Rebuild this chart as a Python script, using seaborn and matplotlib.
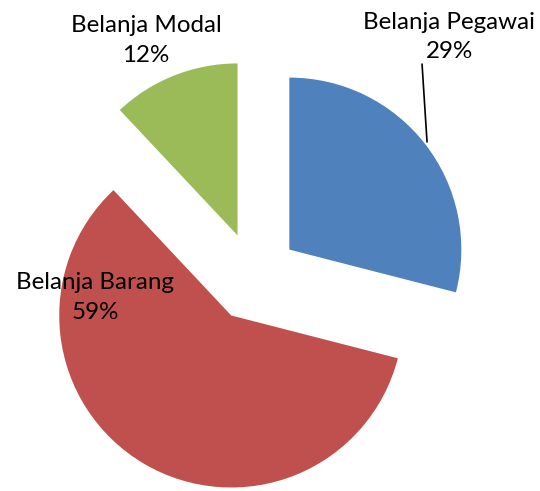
import matplotlib
matplotlib.use("Agg")
import matplotlib.pyplot as plt
import seaborn as sns
import numpy as np

sns.set_theme(style="white")
plt.rcParams['font.family'] = ['Lato', 'DejaVu Sans']

# Data
categories = ['Belanja Pegawai', 'Belanja Barang', 'Belanja Modal']
shares = [29, 59, 12]
colors = ['#4F81BD', '#C0504D', '#9BBB59']

# label block centres (data units, pie radius = 1)
label_pos = [(1.134, 1.395), (-0.924, -0.12), (-0.628, 1.375)]

PX = 172.0  # pixels per pie radius
fig = plt.figure(figsize=(5.40, 4.91), dpi=100)
ax = fig.add_axes([0, 0, 1, 1])

wedges, _ = ax.pie(shares, colors=colors, startangle=90, counterclock=False,
                   explode=[0.26] * len(shares), radius=1.0,
                   wedgeprops=dict(linewidth=0))

for w, cat, val, (lx, ly) in zip(wedges, categories, shares, label_pos):
    ax.text(lx, ly, f"{cat}\n{val}%", ha='center', va='center',
            fontsize=17.4, color='black', linespacing=1.5)

# leader line for Belanja Pegawai
ax.plot([1.006, 0.977], [0.785, 1.238], color='black', lw=1.2)

ax.set_xlim(-254 / PX, 286 / PX)
ax.set_ylim(-214 / PX, 277 / PX)
ax.set_aspect('equal')
ax.axis('off')

fig.savefig('out.png', dpi=100, facecolor='white')
